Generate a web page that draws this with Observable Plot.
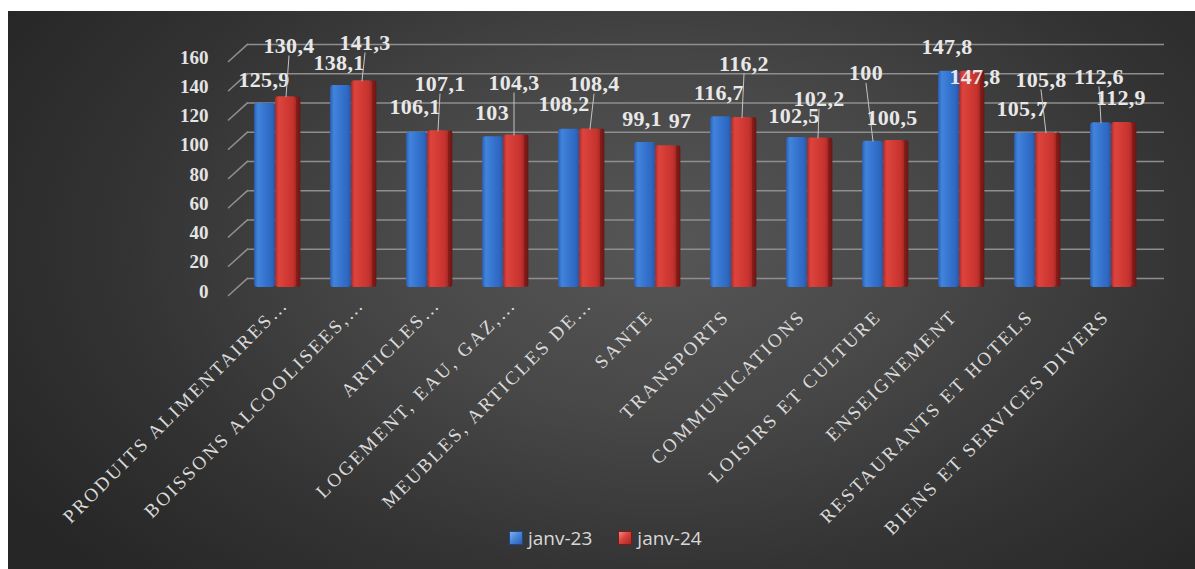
<!DOCTYPE html>
<html>
<head>
<meta charset="utf-8">
<script src="https://cdn.jsdelivr.net/npm/d3@7"></script>
<script src="https://cdn.jsdelivr.net/npm/@observablehq/plot@0.6"></script>
<style>
html, body { margin: 0; padding: 0; background: #ffffff; }
#panel {
  position: absolute; left: 8px; top: 11px; width: 1187px; height: 558px; overflow: hidden;
  background: radial-gradient(ellipse 65% 85% at 55% 42%, #565656 0%, #484848 35%, #333333 70%, #262626 100%);
}
#chart { position: absolute; left: 0; top: 0; }
#chart svg { display: block; overflow: visible; }
.serif, .serif text { font-family: "Liberation Serif", "DejaVu Serif", "Times New Roman", serif !important; }
.xlab text { letter-spacing: 2.5px; }
.vlab text { letter-spacing: 0.3px; }
#legend {
  position: absolute; left: 501px; top: 510px; height: 34px;
  display: flex; align-items: center; font-family: "Open Sans", sans-serif; font-size: 19px; color: #d9d9d9;
}
#legend .sw { width: 12px; height: 12px; margin-right: 5px; }
#legend .item { display: flex; align-items: center; margin-right: 26px; }
</style>
</head>
<body>
<div id="panel">
  <div id="chart"></div>
  <div id="legend"></div>
</div>
<script>
// ---- data ----
const categories = [
  "PRODUITS ALIMENTAIRES…", "BOISSONS ALCOOLISEES,…", "ARTICLES…", "LOGEMENT, EAU, GAZ,…",
  "MEUBLES, ARTICLES DE…", "SANTE", "TRANSPORTS", "COMMUNICATIONS", "LOISIRS ET CULTURE",
  "ENSEIGNEMENT", "RESTAURANTS ET HOTELS", "BIENS ET SERVICES DIVERS"
];
const seriesNames = ["janv-23", "janv-24"];
const janv23 = [125.9, 138.1, 106.1, 103, 108.2, 99.1, 116.7, 102.5, 100, 147.8, 105.7, 112.6];
const janv24 = [130.4, 141.3, 107.1, 104.3, 108.4, 97, 116.2, 102.2, 100.5, 147.8, 105.8, 112.9];
const yTicks = [0, 20, 40, 60, 80, 100, 120, 140, 160];

// ---- layout (label nudges in px, relative to bar top centre) ----
const nudge23 = [[-1,-23],[-2,-23],[-2,-25],[-1,-24],[-5,-25],[-3,-24],[-2,-24],[-3,-22],[-7,-68],[-2,-24],[-3,-24],[-2,-46]];
const nudge24 = [[3,-51],[3,-38],[2,-47],[0,-52],[4,-45],[14,-25],[2,-54],[1,-39],[-2,-23],[5,6],[-5,-53],[-1,-24]];
const leader23 = [8, 11];
const leader24 = [0, 1, 2, 3, 4, 6, 7, 10];

const rows23 = categories.map((c, i) => ({cat: c, value: janv23[i], series: seriesNames[0]}));
const rows24 = categories.map((c, i) => ({cat: c, value: janv24[i], series: seriesNames[1]}));

const fmt = v => String(v).replace(".", ",");
const lineShape = {draw(ctx, l) { ctx.moveTo(0, 0); ctx.lineTo(0, -l); }};

const barW = 21, step = 76.25;
const inset = (step - barW) / 2;
const offs = [-barW / 2, barW / 2];

const labelFont = {fill: "#e8e8e8", fontSize: 22, fontWeight: "bold", fontFamily: "Liberation Serif", className: "vlab serif"};

function labelMarks(rows, nudges, leaders, off) {
  const ms = [];
  rows.forEach((r, i) => {
    const [ndx, ndy] = nudges[i];
    if (leaders.includes(i)) {
      const tx = ndx, ty = ndy + 10;
      ms.push(Plot.vector([r], {
        x: "cat", y: "value", dx: off, anchor: "start",
        length: Math.hypot(tx, ty), rotate: Math.atan2(tx, -ty) * 180 / Math.PI,
        shape: lineShape, stroke: "#c4c4c4", strokeWidth: 1
      }));
    }
    ms.push(Plot.text([r], {x: "cat", y: "value", text: d => fmt(d.value), dx: off + ndx, dy: ndy, ...labelFont}));
  });
  return ms;
}

const truncated = categories.filter(c => c.endsWith("…"));
const full = categories.filter(c => !c.endsWith("…"));
const xlabStyle = {frameAnchor: "bottom", rotate: -45, textAnchor: "end", lineAnchor: "bottom",
  fill: "#dadada", fontSize: 19, fontFamily: "Liberation Serif", className: "xlab serif"};

const plot = Plot.plot({
  width: 1187, height: 510,
  marginLeft: 227, marginRight: 45, marginTop: 42, marginBottom: 234,
  x: {type: "band", domain: categories, padding: 0, axis: null},
  y: {domain: [0, 160], axis: null},
  style: {background: "transparent", overflow: "visible"},
  marks: [
    Plot.ruleY(yTicks, {y: d => d, stroke: "#8e8e8e", strokeWidth: 1.6, dy: -9, insetLeft: 12, insetRight: -14}),
    Plot.vector(yTicks, {y: d => d, frameAnchor: "left", dx: -7, dy: 8, length: 25.5, rotate: 48, anchor: "start",
      shape: lineShape, stroke: "#8e8e8e", strokeWidth: 1.6}),
    Plot.text(yTicks, {y: d => d, frameAnchor: "left", dx: -27, dy: 4, textAnchor: "end", text: d => String(d),
      fill: "#e4e4e4", fontSize: 19, fontWeight: "bold", fontFamily: "Liberation Serif", className: "serif"}),
    // bars
    Plot.barY(rows23, {x: "cat", y: "value", dx: offs[0], insetLeft: inset, insetRight: inset, fill: "url(#gBlue)", rx: 3}),
    Plot.barY(rows24, {x: "cat", y: "value", dx: barW + 2, insetLeft: (step - 5) / 2, insetRight: (step - 5) / 2, fill: "url(#gSide)", rx: 3}),
    Plot.barY(rows24, {x: "cat", y: "value", dx: offs[1], insetLeft: inset, insetRight: inset, fill: "url(#gRed)", rx: 3}),
    // x labels
    Plot.text(full, {x: d => d, dx: -1, dy: 30, ...xlabStyle}),
    Plot.text(truncated, {x: d => d, dx: 14, dy: 18, ...xlabStyle}),
    ...labelMarks(rows23, nudge23, leader23, offs[0]),
    ...labelMarks(rows24, nudge24, leader24, offs[1])
  ]
});

// gradients for the 3D look
const svg = d3.select(plot);
const defs = svg.insert("defs", ":first-child");
function grad(id, stops) {
  const g = defs.append("linearGradient").attr("id", id).attr("x1", 0).attr("x2", 1).attr("y1", 0).attr("y2", 0);
  stops.forEach(([o, c]) => g.append("stop").attr("offset", o).attr("stop-color", c));
}
grad("gBlue", [[0, "#2a5fb6"], [0.18, "#4284dc"], [0.5, "#3675d0"], [0.85, "#2e67c0"], [1, "#2658a8"]]);
grad("gRed", [[0, "#b22a26"], [0.18, "#dc443d"], [0.5, "#d33b35"], [0.85, "#c5332e"], [1, "#ad2824"]]);
grad("gSide", [[0, "#8c201d"], [1, "#6a1513"]]);

document.getElementById("chart").appendChild(plot);

// legend
const legend = d3.select("#legend");
const swatches = [
  "linear-gradient(135deg, #7fb0f0 0%, #4a86da 45%, #2a5fb6 100%)",
  "linear-gradient(135deg, #f08a84 0%, #d8433c 45%, #a82723 100%)"
];
seriesNames.forEach((s, i) => {
  const it = legend.append("div").attr("class", "item");
  it.append("div").attr("class", "sw").style("background", swatches[i]).style("border", "1px solid " + (i ? "#7a1a17" : "#1d4688"));
  it.append("span").text(s);
});
</script>
</body>
</html>
